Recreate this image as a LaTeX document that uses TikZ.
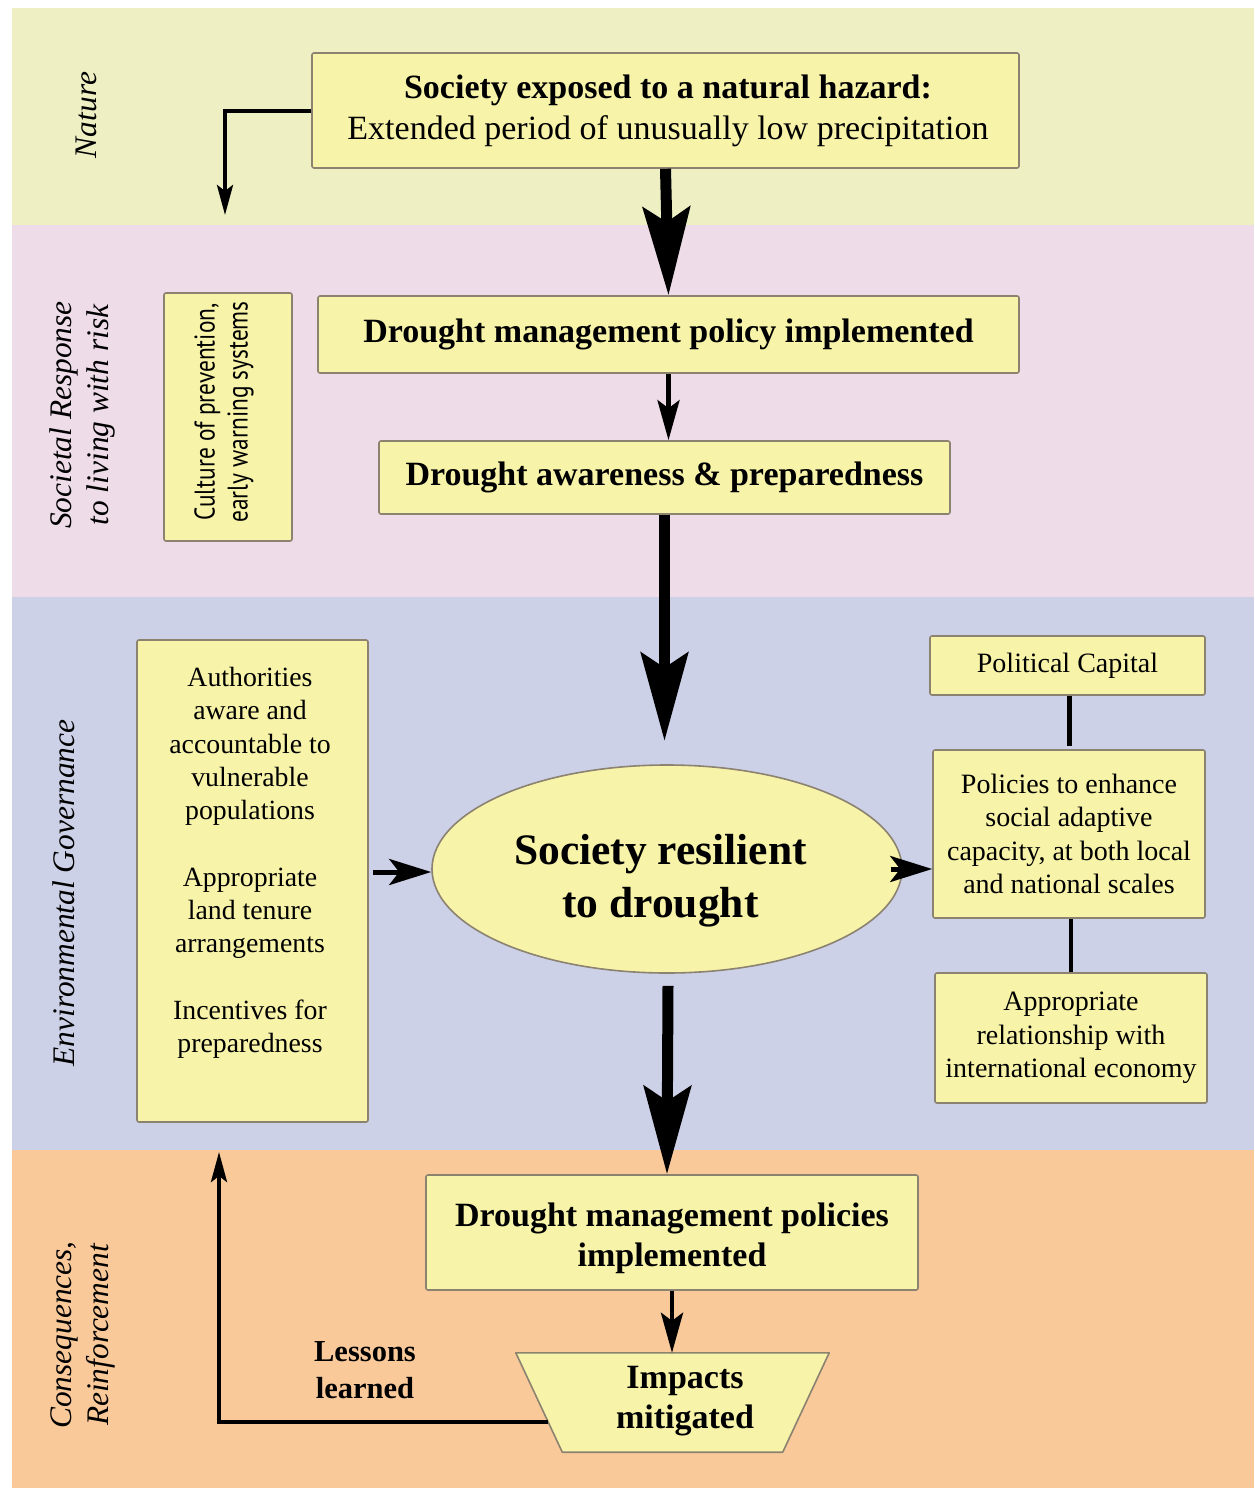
\documentclass[tikz,border=0pt]{standalone}
\usepackage{fontspec}
\setmainfont{Liberation Serif}
\newfontfamily\culturefont[FakeStretch=0.82]{PT Sans}
\usetikzlibrary{arrows.meta,shapes.geometric,calc}

\definecolor{natureband}{HTML}{EEF0C4}
\definecolor{societyband}{HTML}{EEDCE9}
\definecolor{governband}{HTML}{CDD1E8}
\definecolor{consequband}{HTML}{F9C99A}
\definecolor{boxfill}{HTML}{F7F3A9}
\definecolor{boxline}{HTML}{8B8270}

\tikzset{
  panelbox/.style={draw=boxline, fill=boxfill, line width=1.6pt, rounded corners=2pt,
    align=center, inner sep=0pt},
  plaintext/.style={align=center, inner sep=0pt},
  bandlabel/.style={rotate=90, align=center, font=\fontsize{31.4}{37}\selectfont\itshape},
  bigarrow/.style={line width=11pt, -{Stealth[length=88pt,width=47pt,inset=15pt]}},
  midarrow/.style={line width=5pt, -{Stealth[length=42pt,width=26pt,inset=10pt]}},
  smallarrow/.style={line width=4.5pt, -{Stealth[length=40pt,width=22pt,inset=8pt]}},
  thinarrow/.style={line width=4pt, -{Stealth[length=30pt,width=16pt,inset=6pt]}},
  linkline/.style={line width=4.5pt},
}

\begin{document}
\begin{tikzpicture}[x=1pt,y=-1pt]
\useasboundingbox (0,0) rectangle (1254,1491);
\fill[white] (0,0) rectangle (1254,1491);

% horizontal bands
\fill[natureband]  (12,8)    rectangle (1254,225);
\fill[societyband] (12,225)  rectangle (1254,597);
\fill[governband]  (12,597)  rectangle (1254,1150);
\fill[consequband] (12,1150) rectangle (1254,1488);

% band titles
\node[bandlabel] (lnature) at (86,115) {Nature};
\node[bandlabel] (lsociety) at (82,415) {Societal Response\\to living with risk};
\node[bandlabel] (lgovern) at (64,893) {Environmental Governance};
\node[bandlabel] (lconseq) at (83,1335) {Consequences,\\Reinforcement};

% main chain
\node[panelbox, minimum width=707pt, minimum height=115pt] (hazard) at (665.5,110.5) {};
\node[plaintext, font=\fontsize{34}{41}\selectfont] (hazardtext) at (668,111)
  {\textbf{Society exposed to a natural hazard:}\\Extended period of unusually low precipitation};
\node[panelbox, minimum width=701pt, minimum height=77pt,
      font=\fontsize{34}{40}\selectfont\bfseries] (policy) at (668.5,334.5)
  {Drought management policy implemented};
\node[panelbox, minimum width=571pt, minimum height=73pt,
      font=\fontsize{34}{40}\selectfont\bfseries] (aware) at (664.5,477.5)
  {Drought awareness \& preparedness};
\node[panelbox, rounded corners=0pt, ellipse, minimum width=470pt, minimum height=208pt]
  (resilient) at (667,869) {};
\node[plaintext, font=\fontsize{43.5}{53}\selectfont\bfseries] (resilienttext) at (660.5,881)
  {Society resilient\\to drought};
\node[panelbox, minimum width=492pt, minimum height=115pt] (policies) at (672,1232.5) {};
\node[plaintext, font=\fontsize{34}{40}\selectfont\bfseries] (policiestext) at (672,1238)
  {Drought management policies\\implemented};

% trapezoid: impacts mitigated
\node[inner sep=0pt, minimum width=313pt, minimum height=99pt] (impacts) at (672.5,1402.5) {};
\draw[draw=boxline, fill=boxfill, line width=1.6pt, line join=round]
  (impacts.north west) -- (impacts.north east)
  -- ($(impacts.south east)+(-46.5,0)$) -- ($(impacts.south west)+(46.5,0)$) -- cycle;
\node[plaintext, font=\fontsize{34}{40}\selectfont\bfseries] (impactstext) at (685,1401)
  {Impacts\\mitigated};

% side boxes
\node[panelbox, minimum width=128pt, minimum height=248pt] (culture) at (228,417) {};
\node[plaintext, rotate=90, font=\culturefont\fontsize{28.5}{33}\selectfont] (culturetext) at (224,412)
  {Culture of prevention,\\early warning systems};
\node[panelbox, minimum width=231pt, minimum height=482pt] (authority) at (252.5,881) {};
\node[plaintext, font=\fontsize{27.8}{33.3}\selectfont] (authtext) at (250,863)
  {Authorities\\aware and\\accountable to\\vulnerable\\populations\\[33.3pt]Appropriate\\land tenure\\arrangements\\[33.3pt]Incentives for\\preparedness};

\node[panelbox, minimum width=275pt, minimum height=59pt,
      font=\fontsize{28}{33}\selectfont] (capital) at (1067.5,665.5) {Political Capital};
\node[panelbox, minimum width=272pt, minimum height=168pt,
      font=\fontsize{28}{33.3}\selectfont] (adaptive) at (1069,834)
  {Policies to enhance\\social adaptive\\capacity, at both local\\and national scales};
\node[panelbox, minimum width=272pt, minimum height=130pt,
      font=\fontsize{28}{33.3}\selectfont] (economy) at (1071,1038)
  {Appropriate\\relationship with\\international economy};

\node[plaintext, font=\fontsize{30.5}{37}\selectfont\bfseries] (lessons) at (365,1370)
  {Lessons\\learned};

% connectors
\draw[bigarrow] (hazard.south) -- (policy.north);
\draw[smallarrow] (policy.south) -- (policy.south |- aware.north);
\draw[bigarrow] (aware.south) -- ++(0,226) coordinate (resilienttop);
\draw[bigarrow] ($(resilient.south)+(1,12)$) -- (resilient.south |- policies.north);
\draw[smallarrow] (policies.south) -- (policies.south |- impacts.north);

\draw[midarrow] (authority.east |- resilient.west) ++(4,3) coordinate (authout)
  -- (resilient.west |- authout);
\draw[midarrow] ($(resilient.east)+(-12,0)$) -- (adaptive.west |- resilient.east);

\draw[linkline] ($(capital.south)+(2,0)$) -- ($(capital.south)+(2,50)$) coordinate (capdown);
\draw[linkline] (economy.north) -- ($(economy.north)+(0,-53)$) coordinate (ecoup);

% side flows
\coordinate (naturedrop) at (225,215);
\draw[thinarrow] (hazard.west) -| (naturedrop);
\coordinate (feedbackstart) at ($(impacts.north west)!0.697!($(impacts.south west)+(46.5,0)$)$);
\coordinate (feedbacktop) at (219,1152);
\draw[thinarrow] (feedbackstart) -| (feedbacktop);
\end{tikzpicture}
\end{document}
